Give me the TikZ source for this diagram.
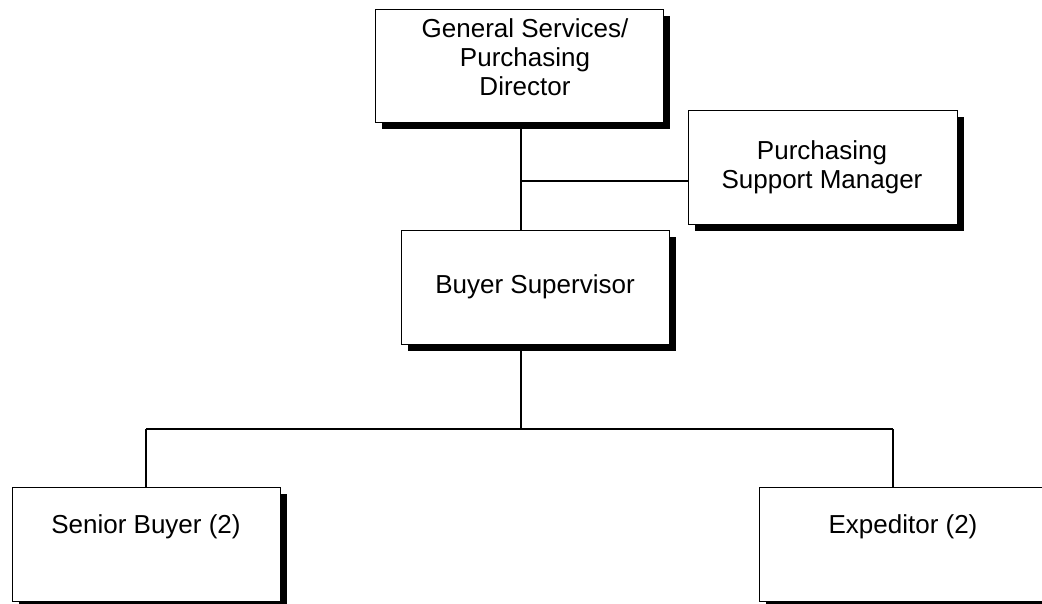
\documentclass[tikz,border=0pt]{standalone}
\usepackage{fontspec}
\setmainfont{Liberation Sans}
\usetikzlibrary{shadows}
\begin{document}
\begin{tikzpicture}[x=1pt,y=-1pt,
  orgbox/.style={draw=black, line width=1.4pt, fill=white, rectangle,
    inner sep=0pt, anchor=north west,
    drop shadow={shadow xshift=6pt, shadow yshift=-6pt, opacity=1, fill=black}},
  boxtext/.style={align=center, inner sep=0pt,
    font=\fontsize{26}{29}\selectfont},
  link/.style={line width=1.4pt}]
\clip (0,0) rectangle (1042,604);
\fill[white] (0,0) rectangle (1042,604);

% boxes
\node[orgbox, minimum width=288pt, minimum height=113pt] (gs)  at (375,9)   {};
\node[orgbox, minimum width=269pt, minimum height=114pt] (psm) at (688,110) {};
\node[orgbox, minimum width=268pt, minimum height=114pt] (bs)  at (401,230) {};
\node[orgbox, minimum width=268pt, minimum height=114pt] (sb)  at (12,487)  {};
\node[orgbox, minimum width=289pt, minimum height=114pt] (ex)  at (759,487) {};

% titles
\node[boxtext] (gst)  at (525,57)  {General Services/\\Purchasing\\Director};
\node[boxtext] (psmt) at (822,167) {Purchasing\\Support Manager};
\node[boxtext] (bst)  at (535,287) {Buyer Supervisor};
\node[boxtext] (sbt)  at (146,527) {Senior Buyer (2)};
\node[boxtext] (ext)  at (903,527) {Expeditor (2)};

% junction points
\coordinate (j1) at (521,181);
\coordinate (j2) at (521,429);
\coordinate (hl) at (146,429);
\coordinate (hr) at (893,429);

% connectors
\draw[link] (gs.south -| j1) -- (bs.north -| j1);
\draw[link] (j1) -- (j1 -| psm.west);
\draw[link] (bs.south -| j2) -- (j2);
\draw[link] (hl) -- (hr);
\draw[link] (hl) -- (hl |- sb.north);
\draw[link] (hr) -- (hr |- ex.north);
\end{tikzpicture}
\end{document}
